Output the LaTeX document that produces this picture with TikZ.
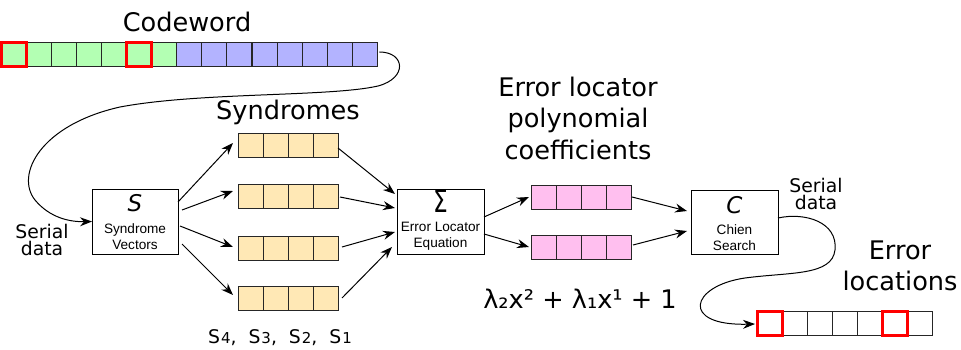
\documentclass[tikz,border=0pt]{standalone}
\usepackage{fontspec}
\usepackage{graphicx}
\setmainfont{DejaVu Sans}
\newfontfamily\boxfont{Liberation Sans}
\usetikzlibrary{arrows.meta,calc}
\definecolor{cwgreen}{RGB}{179,255,179}
\definecolor{cwblue}{RGB}{179,179,255}
\definecolor{syntan}{RGB}{255,232,181}
\definecolor{polypink}{RGB}{255,191,239}
\newcommand\subdig[1]{{\fontsize{15}{15}\selectfont #1}}
\begin{document}
\begin{tikzpicture}[x=1pt,y=-1pt,
  cell/.style={draw=black!85, line width=1pt, minimum width=25pt, minimum height=24pt, inner sep=0pt, outer sep=0pt},
  redcell/.style={draw=red, line width=3pt, minimum width=25pt, minimum height=24pt, inner sep=0pt, outer sep=0pt},
  blk/.style={draw, line width=1pt, fill=white, minimum width=86pt, minimum height=65pt, inner sep=0pt, outer sep=0pt},
  arr/.style={-{Stealth[length=12pt,width=9pt,inset=4pt]}, line width=1pt},
  big/.style={font=\fontsize{25.6}{31.5}\selectfont, align=center, inner sep=0pt},
  mid/.style={font=\fontsize{18.8}{17}\selectfont, align=center, inner sep=0pt},
  letter/.style={font=\fontsize{23}{23}\selectfont\itshape, inner sep=0pt},
  small/.style={font=\boxfont\fontsize{13.6}{16.5}\selectfont, align=center, inner sep=0pt},
]
\useasboundingbox (0,0) rectangle (961,350);

% Codeword
\foreach \i in {0,...,6} \node[cell, fill=cwgreen] (cw\i) at ({13.5+25.1*\i},54.5) {};
\foreach \i in {7,...,14} \node[cell, fill=cwblue] (cw\i) at ({13.5+25.1*\i},54.5) {};
\node[redcell] (cwe0) at (cw0) {};
\node[redcell] (cwe5) at (cw5) {};
\node[big] (lcw) at (187,22) {Codeword};

% Blocks
\node[blk, minimum width=86pt] (S) at (135,221.5) {};
\node[letter] at ($(S.north)+(0,14)$) {S};
\node[small] at ($(S.north)+(0,47.5)$) {Syndrome\\Vectors};

\node[blk, minimum width=87pt] (E) at (440.5,221.5) {};
\node[inner sep=0pt, font=\fontsize{31}{31}\selectfont] at ($(E.north)+(0,12.5)$) {\scalebox{0.75}[1]{Σ}};
\node[small] at ($(E.north)+(0,47)$) {Error Locator\\Equation};

\node[blk, minimum width=87pt, minimum height=64pt] (C) at (734.5,222) {};
\node[letter] at ($(C.north)+(0,15)$) {C};
\node[small] at ($(C.north)+(0,47.5)$) {Chien\\Search};

% Syndrome registers
\foreach \r/\y in {1/146,2/196,3/248,4/298}{
  \foreach \c in {1,...,4}
    \node[cell, fill=syntan] (s\r c\c) at ({225.5+25*\c},\y) {};
}
\node[big] (lsyn) at (288,112) {Syndromes};
\node[mid] (lsv) at (280,337.5) {S\hspace{1pt}\subdig{4},\hspace{12pt}S\hspace{1pt}\subdig{3},\hspace{12pt}S\hspace{1pt}\subdig{2},\hspace{12pt}S\hspace{1pt}\subdig{1}};

% Polynomial registers
\foreach \r/\y in {1/197,2/247}{
  \foreach \c in {1,...,4}
    \node[cell, fill=polypink] (p\r c\c) at ({518.5+25*\c},\y) {};
}
\node[big] (lelp) at (578,118) {Error locator\\polynomial\\coefficients};
\node[big] (lpoly) at (580,299) {λ₂x² + λ₁x¹ + 1};

% Error locations register
\foreach \c in {0,...,6} \node[cell, fill=white] (b\c) at ({769.5+25*\c},323) {};
\node[redcell] (be0) at (b0) {};
\node[redcell] (be5) at (b5) {};
\node[big] (lerr) at (900,266) {Error\\locations};

% Serial data labels
\node[mid] (lsd1) at (42,240) {Serial\\data};
\node[mid] (lsd2) at (816,194) {Serial\\data};

% Connectors
\draw[arr] ([shift={(2,-2.5)}]cw14.east) .. controls (405,52) and (408,78) .. (378,86)
  .. controls (330,97) and (200,92) .. (120,107)
  .. controls (40,125) and (15,175) .. (35,200)
  .. controls (50,218) and (70,222) .. (S.west);

\draw[arr] ([shift={(0,-19.5)}]S.east) -- ([shift={(-5,-3)}]s1c1.west);
\draw[arr] ([shift={(4,-11.5)}]S.east) -- ([shift={(-5,-5)}]s2c1.west);
\draw[arr] ([shift={(2,4.5)}]S.east) -- ([shift={(-5,-1)}]s3c1.west);
\draw[arr] ([shift={(4,22.5)}]S.east) -- ([shift={(-5,-3)}]s4c1.west);

\draw[arr] ([shift={(0,2)}]s1c4.east) -- ([shift={(-2,-27.5)}]E.west);
\draw[arr] ([shift={(2,1)}]s2c4.east) -- ([shift={(-2,-13.5)}]E.west);
\draw[arr] ([shift={(4,-1)}]s3c4.east) -- ([shift={(-2,10.5)}]E.west);
\draw[arr] ([shift={(4,0)}]s4c4.east) -- ([shift={(-5,25.5)}]E.west);

\draw[arr] ([shift={(0,-4.5)}]E.east) -- ([shift={(-2,0)}]p1c1.west);
\draw[arr] ([shift={(0,12.5)}]E.east) -- ([shift={(-2,0)}]p2c1.west);

\draw[arr] ([shift={(1,0)}]p1c4.east) -- ([shift={(-4,-11)}]C.west);
\draw[arr] ([shift={(2,-2)}]p2c4.east) -- ([shift={(-4,9)}]C.west);

\draw[arr] ([shift={(0,-4)}]C.east) .. controls (805,212) and (838,222) .. (835,250)
  .. controls (832,276) and (790,272) .. (745,278)
  .. controls (690,286) and (680,326) .. ([shift={(-2,1)}]b0.west);
\end{tikzpicture}
\end{document}
